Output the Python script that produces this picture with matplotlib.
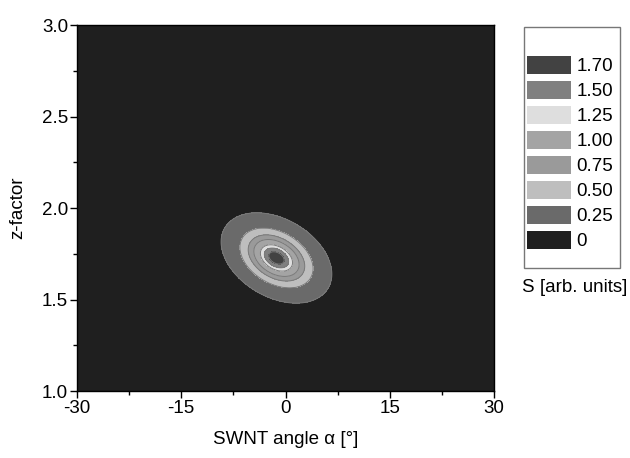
import numpy as np
import matplotlib
matplotlib.use('Agg')
import matplotlib.pyplot as plt
from matplotlib.patches import Patch, Rectangle
from matplotlib.ticker import MultipleLocator

plt.rcParams['font.family'] = ['Liberation Sans', 'DejaVu Sans']
plt.rcParams['axes.unicode_minus'] = False

# contour levels and fills (legend order bottom -> top)
levels = [0, 0.25, 0.50, 0.75, 1.00, 1.25, 1.50, 1.70]
level_labels = ['0', '0.25', '0.50', '0.75', '1.00', '1.25', '1.50', '1.70']
fill_colors = ['#1f1f1f', '#6a6a6a', '#bebebe', '#9a9a9a', '#a4a4a4', '#dedede', '#808080', '#424242']

# peak: centre, tilt and size of the outer (0.25) ring
peak_center = (-1.3, 1.727)     # alpha [deg], z-factor
peak_angle = -30.0              # tilt of long axis, deg
outer_semi_axes = (8.6, 5.6)    # in deg (z stretched by z_scale)
z_scale = 26.3                  # deg per z unit on screen

# relative ring size at which S takes each value
ring_radius = [0.0, 0.14, 0.22, 0.29, 0.41, 0.51, 0.66, 1.0, 1.5]
ring_value = [1.85, 1.70, 1.50, 1.25, 1.00, 0.75, 0.50, 0.25, 0.0]

alpha = np.linspace(-30, 30, 601)
zf = np.linspace(1.0, 3.0, 401)
A, Z = np.meshgrid(alpha, zf)
dx = A - peak_center[0]
dz = (Z - peak_center[1]) * z_scale
t = np.deg2rad(peak_angle)
u = dx * np.cos(t) + dz * np.sin(t)
v = -dx * np.sin(t) + dz * np.cos(t)
r = np.sqrt((u / outer_semi_axes[0])**2 + (v / outer_semi_axes[1])**2)
S = np.interp(r, ring_radius, ring_value)

fs = 13.5
fig = plt.figure(figsize=(6.3, 4.58), dpi=100)
ax = fig.add_axes([77/630, 1 - 391/458, 417/630, 366/458])

bounds = levels + [2.0]
ax.contourf(A, Z, S, levels=bounds, colors=fill_colors)
ax.contour(A, Z, S, levels=levels[1:], colors='#7a7a7a', linewidths=0.7)

ax.set_xlim(-30, 30)
ax.set_ylim(1.0, 3.0)
ax.set_xticks([-30, -15, 0, 15, 30])
ax.xaxis.set_minor_locator(MultipleLocator(7.5))
ax.yaxis.set_major_locator(MultipleLocator(0.5))
ax.yaxis.set_minor_locator(MultipleLocator(0.25))
ax.set_yticklabels([f'{y:.1f}' for y in ax.get_yticks()])
ax.tick_params(which='major', direction='out', length=5, width=1, labelsize=fs, pad=1.5)
ax.tick_params(which='minor', direction='out', length=3, width=1)
for s in ax.spines.values():
    s.set_linewidth(1)

ax.set_xlabel('SWNT angle \u03b1 [°]', fontsize=fs, labelpad=10)
ax.set_ylabel('z-factor', fontsize=fs, labelpad=11)

# legend
handles = [Patch(facecolor=c, edgecolor='none') for c in fill_colors[::-1]]
fig.legend(handles, level_labels[::-1], loc='upper left',
           bbox_to_anchor=(527/630, 1 - 56/458), frameon=False,
           fontsize=fs, handlelength=2.35, handleheight=1.1,
           labelspacing=0.3, handletextpad=0.3, borderpad=0, borderaxespad=0)
fig.patches.append(Rectangle((524/630, 1 - 268/458), 96/630, 241/458, transform=fig.transFigure,
                             facecolor='none', edgecolor='#777777', linewidth=1))
fig.text(522/630, 1 - 287/458, 'S [arb. units]', fontsize=fs, va='center', ha='left')

fig.savefig('out.png', dpi=100)
